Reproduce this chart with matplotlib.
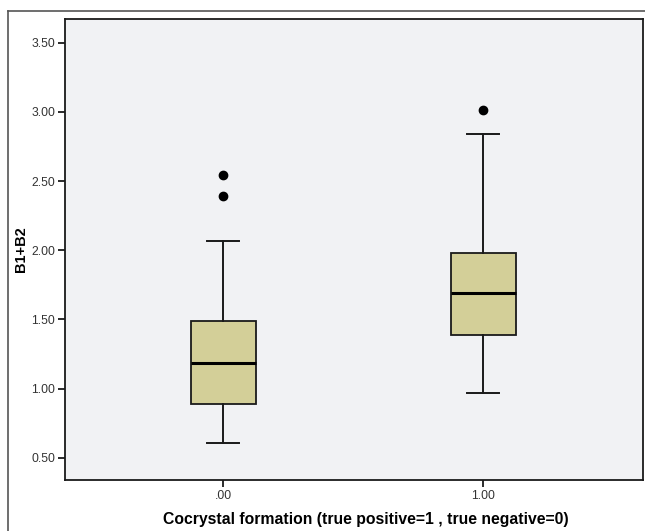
import matplotlib
matplotlib.use("Agg")
import matplotlib.pyplot as plt
from matplotlib.lines import Line2D

plt.rcParams["font.family"] = ["Liberation Sans", "DejaVu Sans"]

# box statistics (SPSS style box plot)
groups = [".00", "1.00"]
lower_whisker = [0.61, 0.97]
q1 = [0.89, 1.385]
median = [1.185, 1.69]
q3 = [1.49, 1.98]
upper_whisker = [2.07, 2.84]
outliers = [[2.54, 2.39], [3.01]]

BOX_COLOR = "#D3CF98"
PANEL = "#F1F2F4"
EDGE = "#1a1a1a"

stats = []
for i, g in enumerate(groups):
    stats.append({
        "label": g,
        "whislo": lower_whisker[i],
        "q1": q1[i],
        "med": median[i],
        "q3": q3[i],
        "whishi": upper_whisker[i],
        "fliers": outliers[i],
    })

fig = plt.figure(figsize=(6.45, 5.31), dpi=100, facecolor="white")
ax = fig.add_axes([65 / 645, 51 / 531, 578 / 645, 461.5 / 531])
ax.set_facecolor(PANEL)

ax.bxp(stats, positions=[0, 1], widths=0.25, patch_artist=True,
       boxprops=dict(facecolor=BOX_COLOR, edgecolor=EDGE, linewidth=1.3),
       medianprops=dict(color="black", linewidth=2.2),
       whiskerprops=dict(color=EDGE, linewidth=1.4),
       capprops=dict(color=EDGE, linewidth=1.4),
       capwidths=0.125,
       flierprops=dict(marker="o", markerfacecolor="black", markeredgecolor="black",
                       markersize=6))

ax.set_xlim(-0.608, 1.615)
ax.set_ylim(0.34, 3.674)
ax.set_yticks([0.5, 1.0, 1.5, 2.0, 2.5, 3.0, 3.5])
ax.set_yticklabels(["0.50", "1.00", "1.50", "2.00", "2.50", "3.00", "3.50"])
ax.set_xticks([0, 1])
ax.set_xticklabels(groups)
ax.tick_params(axis="both", direction="out", length=5, width=1.3, colors=EDGE,
               labelsize=8.7, labelcolor="#333333", pad=2)

for spine in ax.spines.values():
    spine.set_edgecolor(EDGE)
    spine.set_linewidth(1.3)

ax.set_ylabel("B1+B2", fontsize=10.5, fontweight="bold")
ax.yaxis.set_label_coords(-0.064, 0.5)
ax.set_xlabel("Cocrystal formation (true positive=1 , true negative=0)",
              fontsize=11.3, fontweight="bold")
ax.xaxis.set_label_coords(0.52, -0.07)

# outer frame of the exported chart
fig.add_artist(Line2D([8 / 645, 8 / 645], [0, 1 - 11 / 531], transform=fig.transFigure,
                      color="#555555", linewidth=1.2))
fig.add_artist(Line2D([8 / 645, 1], [1 - 11 / 531, 1 - 11 / 531], transform=fig.transFigure,
                      color="#555555", linewidth=1.2))

fig.savefig("out.png", dpi=100, facecolor="white")
